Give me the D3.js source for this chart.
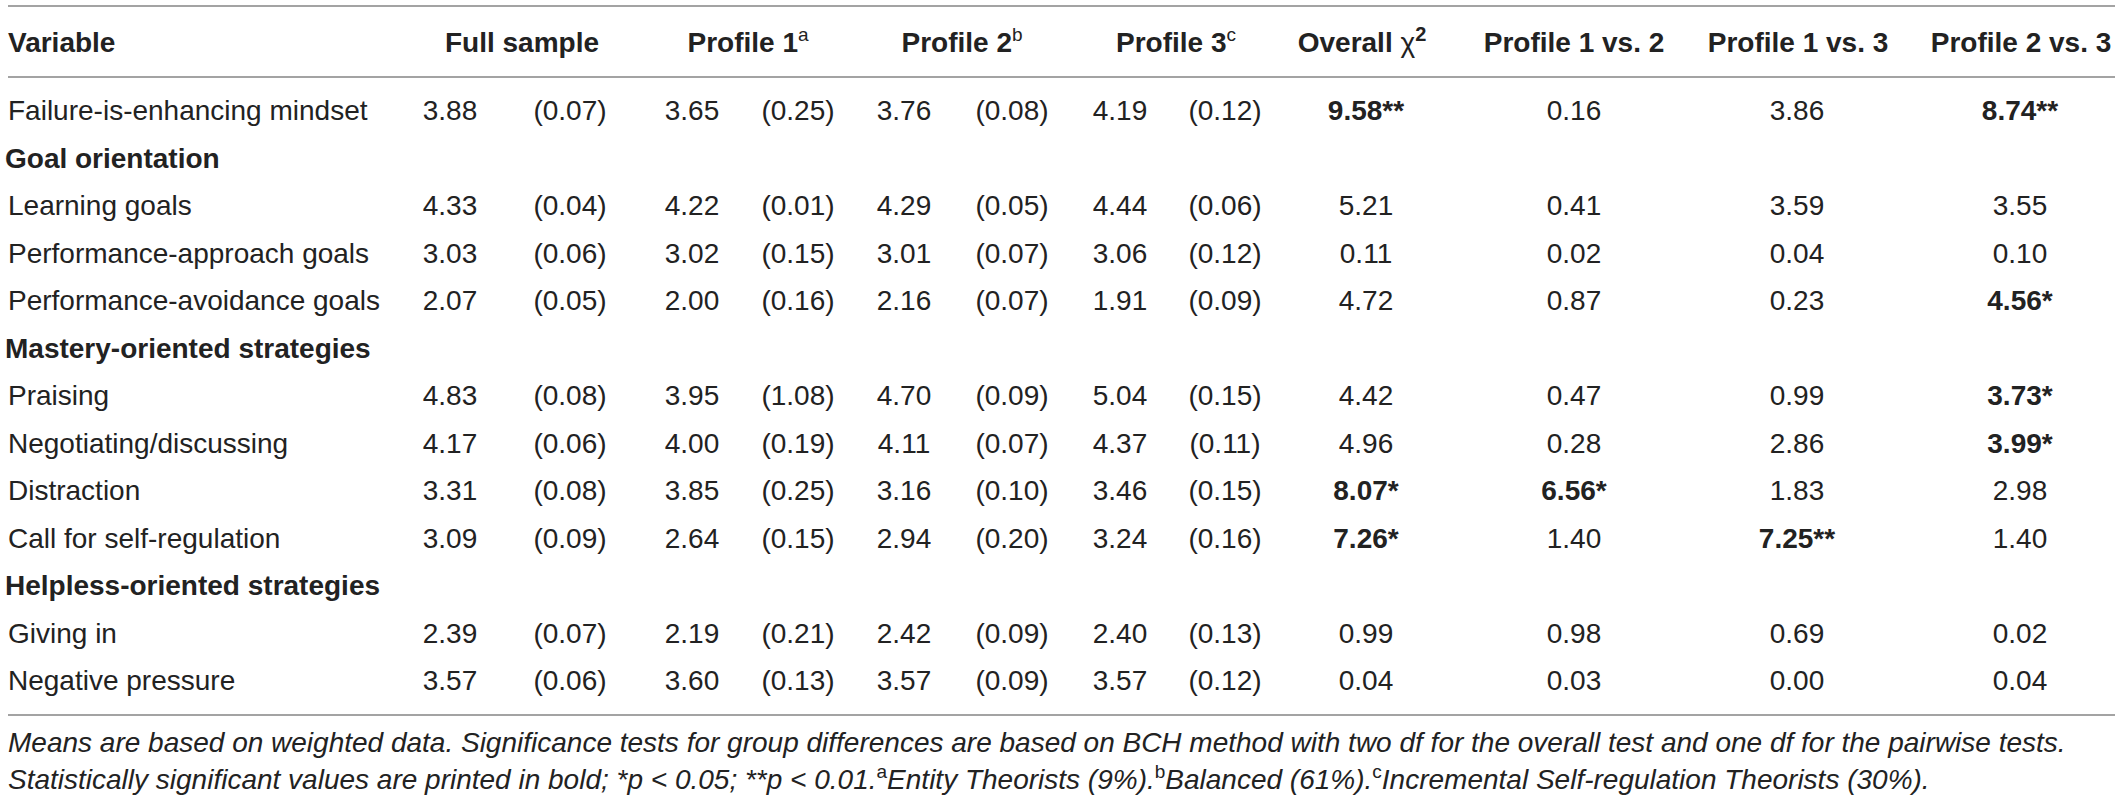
<!DOCTYPE html>
<html>
<head>
<meta charset="utf-8">
<script src="https://cdn.jsdelivr.net/npm/d3@7"></script>
<style>
  body { margin: 0; background: #fff; }
  text { font-family: "Liberation Sans", Arial, Helvetica, sans-serif; fill: #222; }
</style>
</head>
<body>
<div id="d3-container"></div>
<script>
/**
 * CONSTANTS AND GLOBALS
 * */
const width = 2120,
  height = 802;

/**
 * DATA
 * null marks a section heading row (no values)
 * */
const rowLabels = [
  "Failure-is-enhancing mindset",
  "Goal orientation",
  "Learning goals",
  "Performance-approach goals",
  "Performance-avoidance goals",
  "Mastery-oriented strategies",
  "Praising",
  "Negotiating/discussing",
  "Distraction",
  "Call for self-regulation",
  "Helpless-oriented strategies",
  "Giving in",
  "Negative pressure"
];
const sectionRows = ["Goal orientation", "Mastery-oriented strategies", "Helpless-oriented strategies"];

const fullMean  = ["3.88", null, "4.33", "3.03", "2.07", null, "4.83", "4.17", "3.31", "3.09", null, "2.39", "3.57"];
const fullSE    = ["0.07", null, "0.04", "0.06", "0.05", null, "0.08", "0.06", "0.08", "0.09", null, "0.07", "0.06"];
const p1Mean    = ["3.65", null, "4.22", "3.02", "2.00", null, "3.95", "4.00", "3.85", "2.64", null, "2.19", "3.60"];
const p1SE      = ["0.25", null, "0.01", "0.15", "0.16", null, "1.08", "0.19", "0.25", "0.15", null, "0.21", "0.13"];
const p2Mean    = ["3.76", null, "4.29", "3.01", "2.16", null, "4.70", "4.11", "3.16", "2.94", null, "2.42", "3.57"];
const p2SE      = ["0.08", null, "0.05", "0.07", "0.07", null, "0.09", "0.07", "0.10", "0.20", null, "0.09", "0.09"];
const p3Mean    = ["4.19", null, "4.44", "3.06", "1.91", null, "5.04", "4.37", "3.46", "3.24", null, "2.40", "3.57"];
const p3SE      = ["0.12", null, "0.06", "0.12", "0.09", null, "0.15", "0.11", "0.15", "0.16", null, "0.13", "0.12"];
const overallChi = ["9.58**", null, "5.21", "0.11", "4.72", null, "4.42", "4.96", "8.07*", "7.26*", null, "0.99", "0.04"];
const p1vs2     = ["0.16", null, "0.41", "0.02", "0.87", null, "0.47", "0.28", "6.56*", "1.40", null, "0.98", "0.03"];
const p1vs3     = ["3.86", null, "3.59", "0.04", "0.23", null, "0.99", "2.86", "1.83", "7.25**", null, "0.69", "0.00"];
const p2vs3     = ["8.74**", null, "3.55", "0.10", "4.56*", null, "3.73*", "3.99*", "2.98", "1.40", null, "0.02", "0.04"];

const columnKeys = ["fullM", "fullS", "p1M", "p1S", "p2M", "p2S", "p3M", "p3S", "chi", "c12", "c13", "c23"];
const columnValues = [fullMean, fullSE, p1Mean, p1SE, p2Mean, p2SE, p3Mean, p3SE, overallChi, p1vs2, p1vs3, p2vs3];
const seColumns = ["fullS", "p1S", "p2S", "p3S"];

const headers = [
  { key: "full", label: "Full sample", sup: null },
  { key: "p1", label: "Profile 1", sup: "a" },
  { key: "p2", label: "Profile 2", sup: "b" },
  { key: "p3", label: "Profile 3", sup: "c" },
  { key: "chi", label: "Overall ", sup: null },
  { key: "c12", label: "Profile 1 vs. 2", sup: null },
  { key: "c13", label: "Profile 1 vs. 3", sup: null },
  { key: "c23", label: "Profile 2 vs. 3", sup: null }
];

/**
 * LAYOUT
 * */
const fontSize = 28;
const left = 8, right = 2115;
const yTop = 6, yHead = 77, yBottom = 715, headBaseline = 52;

// column centre positions
const xCol = d3.scaleOrdinal()
  .domain(columnKeys)
  .range([450, 570, 692, 798, 904, 1012, 1120, 1225, 1366, 1574, 1797, 2020]);
const xHead = d3.scaleOrdinal()
  .domain(headers.map(d => d.key))
  .range([522, 748, 962, 1176, 1362, 1574, 1798, 2021]);

// row baselines
const yRow = d3.scaleLinear()
  .domain([0, rowLabels.length - 1])
  .range([120, 690]);

/**
 * DRAW
 * */
const svg = d3.select("#d3-container")
  .append("svg")
  .attr("width", width)
  .attr("height", height);

svg.append("rect").attr("width", width).attr("height", height).attr("fill", "#fff");

// rules
svg.selectAll("line.rule")
  .data([yTop, yHead, yBottom])
  .join("line")
  .attr("class", "rule")
  .attr("x1", left)
  .attr("x2", right)
  .attr("y1", d => d)
  .attr("y2", d => d)
  .attr("stroke", "#a3a3a3")
  .attr("stroke-width", 2);

// header row
svg.append("text")
  .attr("x", left)
  .attr("y", headBaseline)
  .attr("font-size", fontSize)
  .attr("font-weight", "bold")
  .text("Variable");

const head = svg.selectAll("text.head")
  .data(headers)
  .join("text")
  .attr("class", "head")
  .attr("x", d => xHead(d.key))
  .attr("y", headBaseline)
  .attr("font-size", fontSize)
  .attr("font-weight", "bold")
  .attr("text-anchor", "middle");

head.append("tspan").text(d => d.label);
head.filter(d => d.sup)
  .append("tspan")
  .attr("font-size", 19)
  .attr("font-weight", "normal")
  .attr("dy", -11)
  .text(d => d.sup);
head.filter(d => d.key === "chi")
  .call(t => {
    t.append("tspan").attr("font-weight", "normal").text("χ");
    t.append("tspan").attr("font-size", 20).attr("dy", -11).text("2");
  });

// row labels
svg.selectAll("text.label")
  .data(rowLabels)
  .join("text")
  .attr("class", "label")
  .attr("x", d => sectionRows.includes(d) ? left - 3 : left)
  .attr("y", (d, i) => yRow(i))
  .attr("font-size", fontSize)
  .attr("font-weight", d => sectionRows.includes(d) ? "bold" : "normal")
  .text(d => d);

// cells
const cells = [];
columnKeys.forEach((key, c) => {
  columnValues[c].forEach((v, i) => {
    if (v !== null) cells.push({ key, row: i, value: v });
  });
});

svg.selectAll("text.cell")
  .data(cells)
  .join("text")
  .attr("class", "cell")
  .attr("x", d => xCol(d.key))
  .attr("y", d => yRow(d.row))
  .attr("font-size", fontSize)
  .attr("text-anchor", "middle")
  .attr("font-weight", d => d.value.includes("*") ? "bold" : "normal")
  .text(d => seColumns.includes(d.key) ? `(${d.value})` : d.value);

// footnote
const note1 = "Means are based on weighted data. Significance tests for group differences are based on BCH method with two df for the overall test and one df for the pairwise tests.";
const note2 = [
  { t: "Statistically significant values are printed in bold; *p < 0.05; **p < 0.01." },
  { t: "a", sup: true }, { t: "Entity Theorists (9%)." },
  { t: "b", sup: true }, { t: "Balanced (61%)." },
  { t: "c", sup: true }, { t: "Incremental Self-regulation Theorists (30%)." }
];

svg.append("text")
  .attr("x", left)
  .attr("y", 752)
  .attr("font-size", fontSize)
  .attr("font-style", "italic")
  .text(note1);

const n2 = svg.append("text")
  .attr("x", left)
  .attr("y", 789)
  .attr("font-size", fontSize)
  .attr("font-style", "italic");

n2.selectAll("tspan")
  .data(note2)
  .join("tspan")
  .attr("font-size", d => d.sup ? 19 : fontSize)
  .attr("font-style", d => d.sup ? "normal" : "italic")
  .attr("dy", (d, i) => d.sup ? -11 : (i > 0 ? 11 : 0))
  .text(d => d.t);
</script>
</body>
</html>
